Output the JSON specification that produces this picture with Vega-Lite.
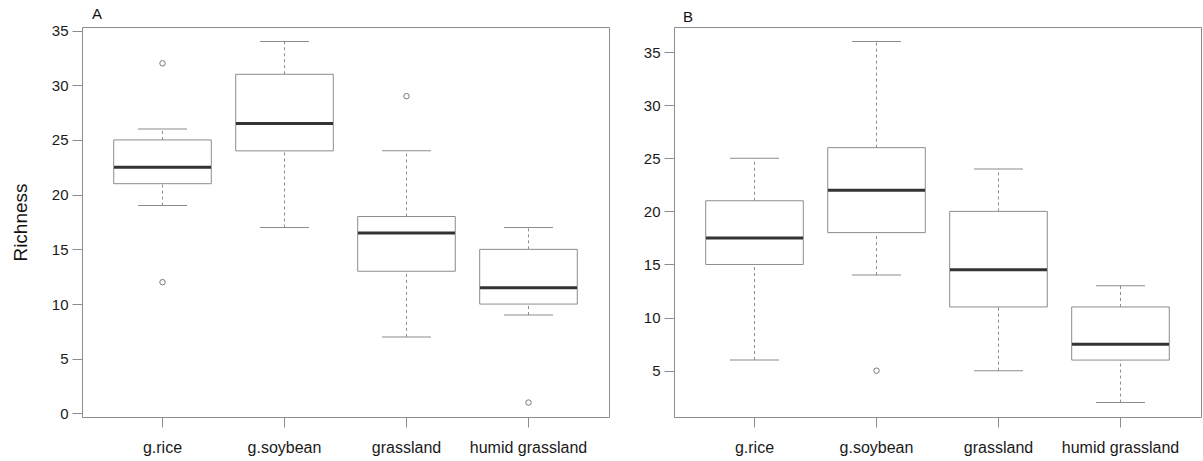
{
  "$schema": "https://vega.github.io/schema/vega-lite/v6.json",
  "padding": {"left": 10, "top": 6, "right": 0, "bottom": 0},
  "background": "white",
  "datasets": {
    "statsA": [
      {"site": "g.rice", "lower": 19, "q1": 21, "median": 22.5, "q3": 25, "upper": 26},
      {"site": "g.soybean", "lower": 17, "q1": 24, "median": 26.5, "q3": 31, "upper": 34},
      {"site": "grassland", "lower": 7, "q1": 13, "median": 16.5, "q3": 18, "upper": 24},
      {"site": "humid grassland", "lower": 9, "q1": 10, "median": 11.5, "q3": 15, "upper": 17}
    ],
    "outA": [
      {"site": "g.rice", "value": 32},
      {"site": "g.rice", "value": 12},
      {"site": "grassland", "value": 29},
      {"site": "humid grassland", "value": 1}
    ],
    "statsB": [
      {"site": "g.rice", "lower": 6, "q1": 15, "median": 17.5, "q3": 21, "upper": 25},
      {"site": "g.soybean", "lower": 14, "q1": 18, "median": 22, "q3": 26, "upper": 36},
      {"site": "grassland", "lower": 5, "q1": 11, "median": 14.5, "q3": 20, "upper": 24},
      {"site": "humid grassland", "lower": 2, "q1": 6, "median": 7.5, "q3": 11, "upper": 13}
    ],
    "outB": [
      {"site": "g.soybean", "value": 5}
    ]
  },
  "config": {
    "font": "Liberation Sans",
    "view": {"stroke": "#8c8c8c", "strokeWidth": 1},
    "axis": {
      "grid": false,
      "domain": false,
      "tickColor": "#8c8c8c",
      "tickSize": 10,
      "labelColor": "#1a1a1a",
      "labelFont": "Liberation Sans"
    },
    "axisX": {"labelFontSize": 16},
    "axisY": {"labelFontSize": 15},
    "title": {"fontSize": 15, "fontWeight": "normal", "anchor": "start", "frame": "group", "color": "#111", "font": "Liberation Sans"}
  },
  "hconcat": [
    {
      "width": 527,
      "height": 390,
      "title": {"text": "A", "dx": 10, "offset": 2},
      "encoding": {
        "x": {
          "field": "site", "type": "nominal",
          "sort": ["g.rice", "g.soybean", "grassland", "humid grassland"],
          "scale": {"type": "band", "paddingInner": 0, "paddingOuter": 0.16},
          "axis": {"title": null, "labelAngle": 0, "labelPadding": 12}
        }
      },
      "layer": [
        {
          "data": {"name": "statsA"},
          "mark": {"type": "rule", "stroke": "#8c8c8c", "strokeDash": [3, 3], "strokeWidth": 1},
          "encoding": {
            "y": {"field": "lower", "type": "quantitative",
              "scale": {"domain": [-0.32, 35.32], "nice": false, "zero": false},
              "axis": {"title": "Richness", "titleFontSize": 19, "titleFontWeight": "normal", "titleColor": "#111", "titlePadding": 21, "values": [0, 5, 10, 15, 20, 25, 30, 35], "labelPadding": 4}},
            "y2": {"field": "q1"}
          }
        },
        {
          "data": {"name": "statsA"},
          "mark": {"type": "rule", "stroke": "#8c8c8c", "strokeDash": [3, 3], "strokeWidth": 1},
          "encoding": {
            "y": {"field": "q3", "type": "quantitative"},
            "y2": {"field": "upper"}
          }
        },
        {
          "data": {"name": "statsA"},
          "mark": {"type": "bar", "fill": "white", "stroke": "#8c8c8c", "strokeWidth": 1, "width": {"band": 0.8}},
          "encoding": {
            "y": {"field": "q1", "type": "quantitative"},
            "y2": {"field": "q3"}
          }
        },
        {
          "data": {"name": "statsA"},
          "mark": {"type": "tick", "color": "#8c8c8c", "size": 49, "thickness": 1, "opacity": 1},
          "encoding": {"y": {"field": "lower", "type": "quantitative"}}
        },
        {
          "data": {"name": "statsA"},
          "mark": {"type": "tick", "color": "#8c8c8c", "size": 49, "thickness": 1, "opacity": 1},
          "encoding": {"y": {"field": "upper", "type": "quantitative"}}
        },
        {
          "data": {"name": "statsA"},
          "mark": {"type": "tick", "color": "#333333", "size": 97, "thickness": 3, "opacity": 1},
          "encoding": {"y": {"field": "median", "type": "quantitative"}}
        },
        {
          "data": {"name": "outA"},
          "mark": {"type": "point", "filled": false, "stroke": "#777777", "strokeWidth": 1, "size": 30, "opacity": 1},
          "encoding": {"y": {"field": "value", "type": "quantitative"}}
        }
      ]
    },
    {
      "width": 527,
      "height": 390,
      "title": {"text": "B", "dx": 9, "offset": 2},
      "encoding": {
        "x": {
          "field": "site", "type": "nominal",
          "sort": ["g.rice", "g.soybean", "grassland", "humid grassland"],
          "scale": {"type": "band", "paddingInner": 0, "paddingOuter": 0.16},
          "axis": {"title": null, "labelAngle": 0, "labelPadding": 12}
        }
      },
      "layer": [
        {
          "data": {"name": "statsB"},
          "mark": {"type": "rule", "stroke": "#8c8c8c", "strokeDash": [3, 3], "strokeWidth": 1},
          "encoding": {
            "y": {"field": "lower", "type": "quantitative",
              "scale": {"domain": [0.64, 37.36], "nice": false, "zero": false},
              "axis": {"title": null, "values": [5, 10, 15, 20, 25, 30, 35], "labelPadding": 4}},
            "y2": {"field": "q1"}
          }
        },
        {
          "data": {"name": "statsB"},
          "mark": {"type": "rule", "stroke": "#8c8c8c", "strokeDash": [3, 3], "strokeWidth": 1},
          "encoding": {
            "y": {"field": "q3", "type": "quantitative"},
            "y2": {"field": "upper"}
          }
        },
        {
          "data": {"name": "statsB"},
          "mark": {"type": "bar", "fill": "white", "stroke": "#8c8c8c", "strokeWidth": 1, "width": {"band": 0.8}},
          "encoding": {
            "y": {"field": "q1", "type": "quantitative"},
            "y2": {"field": "q3"}
          }
        },
        {
          "data": {"name": "statsB"},
          "mark": {"type": "tick", "color": "#8c8c8c", "size": 49, "thickness": 1, "opacity": 1},
          "encoding": {"y": {"field": "lower", "type": "quantitative"}}
        },
        {
          "data": {"name": "statsB"},
          "mark": {"type": "tick", "color": "#8c8c8c", "size": 49, "thickness": 1, "opacity": 1},
          "encoding": {"y": {"field": "upper", "type": "quantitative"}}
        },
        {
          "data": {"name": "statsB"},
          "mark": {"type": "tick", "color": "#333333", "size": 97, "thickness": 3, "opacity": 1},
          "encoding": {"y": {"field": "median", "type": "quantitative"}}
        },
        {
          "data": {"name": "outB"},
          "mark": {"type": "point", "filled": false, "stroke": "#777777", "strokeWidth": 1, "size": 30, "opacity": 1},
          "encoding": {"y": {"field": "value", "type": "quantitative"}}
        }
      ]
    }
  ],
  "spacing": 65,
  "bounds": "flush"
}
